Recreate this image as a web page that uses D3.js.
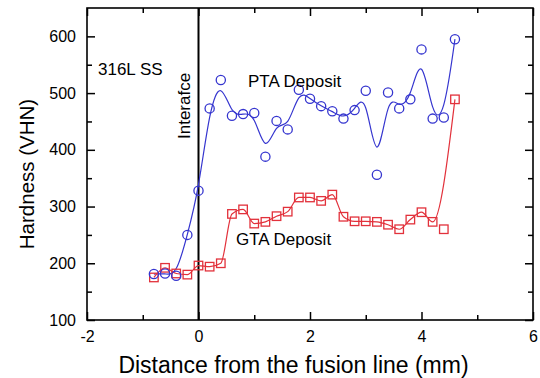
<!DOCTYPE html>
<html>
<head>
<meta charset="utf-8">
<script src="https://cdn.jsdelivr.net/npm/d3@7/dist/d3.min.js"></script>
<style>
  html, body { margin: 0; padding: 0; background: #fff; }
  svg { display: block; font-family: Arial, "Liberation Sans", sans-serif; }
</style>
</head>
<body>
<svg id="chart" width="540" height="378"></svg>
<script>
// Distance from the fusion line (mm) for each hardness reading
const distance = [-0.8, -0.6, -0.4, -0.2, 0.0, 0.2, 0.4, 0.6, 0.8, 1.0, 1.2, 1.4, 1.6, 1.8,
                  2.0, 2.2, 2.4, 2.6, 2.8, 3.0, 3.2, 3.4, 3.6, 3.8, 4.0, 4.2, 4.4, 4.6];
// Vickers hardness, PTA deposit
const ptaHardness = [181, 182, 178, 250, 328, 473, 523, 460, 463, 465, 388, 451, 436, 506,
                     490, 477, 468, 455, 470, 504, 356, 501, 473, 489, 577, 455, 457, 595];
// Vickers hardness, GTA deposit
const gtaHardness = [175, 192, 182, 180, 196, 194, 200, 287, 295, 270, 273, 283, 291, 316,
                     316, 310, 321, 282, 274, 274, 273, 268, 260, 277, 290, 273, 260, 489];
// Reading left out of the GTA trend line
const gtaTrendSkip = [4.4];

const xTicks = [-2, 0, 2, 4, 6];
const xMinorTicks = [-1, 1, 3, 5];
const yTicks = [100, 200, 300, 400, 500, 600];
const yMinorTicks = [150, 250, 350, 450, 550];

const svg = d3.select("#chart");
const plotLeft = 87, plotRight = 533, plotTop = 8, plotBottom = 320;

const x = d3.scaleLinear().domain([-2, 6]).range([plotLeft, plotRight]);
const y = d3.scaleLinear().domain([100, 650]).range([plotBottom, plotTop]);

const blue = "#3535cf";
const red = "#e2313b";

// Frame
svg.append("rect")
  .attr("x", plotLeft).attr("y", plotTop)
  .attr("width", plotRight - plotLeft).attr("height", plotBottom - plotTop)
  .attr("fill", "none").attr("stroke", "#000").attr("stroke-width", 1.6);

function styleAxis(g, labels) {
  g.select(".domain").remove();
  g.selectAll(".tick line").attr("stroke", "#000").attr("stroke-width", 1.5);
  if (!labels) g.selectAll(".tick text").remove();
  else g.selectAll(".tick text").attr("fill", "#000").attr("font-size", 16)
        .attr("font-family", "Arial, 'Liberation Sans', sans-serif");
}

// Bottom axis
svg.append("g").attr("transform", `translate(0,${plotBottom})`)
  .call(d3.axisBottom(x).tickValues(xTicks).tickSize(-8).tickPadding(11).tickFormat(d => String(d)))
  .call(g => styleAxis(g, true));
svg.append("g").attr("transform", `translate(0,${plotBottom})`)
  .call(d3.axisBottom(x).tickValues(xMinorTicks).tickSize(-5))
  .call(g => styleAxis(g, false));
// Top axis
svg.append("g").attr("transform", `translate(0,${plotTop})`)
  .call(d3.axisTop(x).tickValues(xTicks).tickSize(-8))
  .call(g => styleAxis(g, false));
svg.append("g").attr("transform", `translate(0,${plotTop})`)
  .call(d3.axisTop(x).tickValues(xMinorTicks).tickSize(-5))
  .call(g => styleAxis(g, false));
// Left axis
svg.append("g").attr("transform", `translate(${plotLeft},0)`)
  .call(d3.axisLeft(y).tickValues(yTicks).tickSize(-8).tickPadding(11))
  .call(g => styleAxis(g, true));
svg.append("g").attr("transform", `translate(${plotLeft},0)`)
  .call(d3.axisLeft(y).tickValues(yMinorTicks).tickSize(-5))
  .call(g => styleAxis(g, false));
// Right axis
svg.append("g").attr("transform", `translate(${plotRight},0)`)
  .call(d3.axisRight(y).tickValues(yTicks).tickSize(-8))
  .call(g => styleAxis(g, false));
svg.append("g").attr("transform", `translate(${plotRight},0)`)
  .call(d3.axisRight(y).tickValues(yMinorTicks).tickSize(-5))
  .call(g => styleAxis(g, false));

// Interface (fusion line)
svg.append("line")
  .attr("x1", x(0)).attr("x2", x(0))
  .attr("y1", plotTop).attr("y2", plotBottom)
  .attr("stroke", "#000").attr("stroke-width", 2);

const pta = distance.map((d, i) => ({ d, h: ptaHardness[i] }));
const gta = distance.map((d, i) => ({ d, h: gtaHardness[i] }));

// PTA smoothed trend
svg.append("path")
  .datum(pta)
  .attr("fill", "none").attr("stroke", blue).attr("stroke-width", 1.2)
  .attr("d", d3.line().x(p => x(p.d)).y(p => y(p.h)).curve(d3.curveBasis));

// GTA trend
svg.append("path")
  .datum(gta.filter(p => !gtaTrendSkip.includes(p.d)))
  .attr("fill", "none").attr("stroke", red).attr("stroke-width", 1.2)
  .attr("d", d3.line().x(p => x(p.d)).y(p => y(p.h)).curve(d3.curveMonotoneX));

// GTA markers
const sq = 8.5;
svg.append("g").selectAll("rect")
  .data(gta).join("rect")
  .attr("x", p => x(p.d) - sq / 2).attr("y", p => y(p.h) - sq / 2)
  .attr("width", sq).attr("height", sq)
  .attr("fill", "none").attr("stroke", red).attr("stroke-width", 1.3);

// PTA markers
svg.append("g").selectAll("circle")
  .data(pta).join("circle")
  .attr("cx", p => x(p.d)).attr("cy", p => y(p.h)).attr("r", 4.6)
  .attr("fill", "none").attr("stroke", blue).attr("stroke-width", 1.3);

// Annotations
const note = (t, px, py) => svg.append("text")
  .attr("x", px).attr("y", py).attr("font-size", 17).attr("fill", "#000").text(t);
note("316L SS", 98, 75);
note("PTA Deposit", 248, 87);
note("GTA Deposit", 236, 245);

svg.append("text")
  .attr("transform", `translate(190,139) rotate(-90)`)
  .attr("font-size", 17).attr("fill", "#000").text("Interafce");

// Axis titles
svg.append("text")
  .attr("x", 293.5).attr("y", 373)
  .attr("text-anchor", "middle").attr("font-size", 23).attr("fill", "#000")
  .text("Distance from the fusion line (mm)");
svg.append("text")
  .attr("transform", `translate(34,${(plotTop + plotBottom) / 2 + 10}) rotate(-90)`)
  .attr("text-anchor", "middle").attr("font-size", 20.5).attr("fill", "#000")
  .text("Hardness (VHN)");
</script>
</body>
</html>
